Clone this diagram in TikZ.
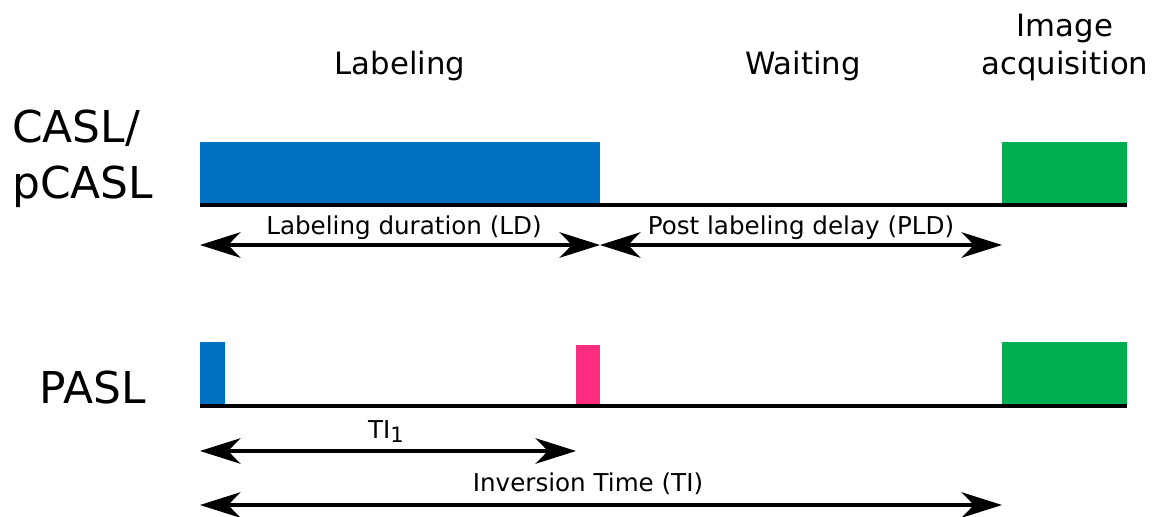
\documentclass[tikz,border=0pt]{standalone}
\usepackage{fontspec}
\setmainfont{DejaVu Sans}
\usetikzlibrary{arrows.meta}
\definecolor{labelblue}{HTML}{0070C0}
\definecolor{acqgreen}{HTML}{00B050}
\definecolor{pulsepink}{HTML}{FF2D80}
\tikzset{
  bigtip/.tip={Stealth[length=23pt,width=14.5pt,inset=7pt]},
  timeaxis/.style={line width=2pt},
  span/.style={line width=1.9pt,bigtip-bigtip},
  phase/.style={font=\fontsize{17.5}{21}\selectfont,anchor=base},
  seq/.style={font=\fontsize{25}{31}\selectfont,anchor=base west},
  spanlabel/.style={font=\fontsize{14}{17}\selectfont,anchor=base}
}
\begin{document}
\begin{tikzpicture}[x=0.02cm,y=-0.02cm]
  \useasboundingbox (0,0) rectangle (1157,517);
  % phase headers
  \node[phase] (labeling) at (400,75) {Labeling};
  \node[phase] (waiting) at (803,75) {Waiting};
  \node[phase] (image) at (1065,37) {Image};
  \node[phase] (acq) at (1065,75) {acquisition};
  % sequence names
  \node[seq] (casl) at (6,143) {CASL/};
  \node[seq] (pcasl) at (6,198) {pCASL};
  \node[seq,anchor=base east] (pasl) at (152,403) {PASL};
  % CASL/pCASL
  \fill[labelblue] (200,142) rectangle (600,205);
  \fill[acqgreen] (1002,142) rectangle (1127,205);
  \draw[timeaxis] (200,205) -- (1127,205);
  % PASL
  \fill[labelblue] (200,342) rectangle (225,406);
  \fill[pulsepink] (576,345) rectangle (600,406);
  \fill[acqgreen] (1002,342) rectangle (1127,406);
  \draw[timeaxis] (200,406) -- (1127,406);
  % time spans
  \coordinate (ld-a) at (200,245);
  \coordinate (ld-b) at (600,245);
  \coordinate (pld-b) at (1002,245);
  \coordinate (ti1-a) at (200,451);
  \coordinate (ti1-b) at (576,451);
  \coordinate (ti-a) at (200,505);
  \coordinate (ti-b) at (1002,505);
  \draw[span] (ld-a) -- (ld-b);
  \draw[span] (ld-b) -- (pld-b);
  \draw[span] (ti1-a) -- (ti1-b);
  \draw[span] (ti-a) -- (ti-b);
  \node[spanlabel] (ld) at (404,235) {Labeling duration (LD)};
  \node[spanlabel] (pld) at (801,235) {Post labeling delay (PLD)};
  \node[spanlabel] (ti1) at (386,438) {TI\raisebox{-0.35ex}{\fontsize{12}{14}\selectfont 1}};
  \node[spanlabel] (ti) at (588,491) {Inversion Time (TI)};
\end{tikzpicture}
\end{document}
